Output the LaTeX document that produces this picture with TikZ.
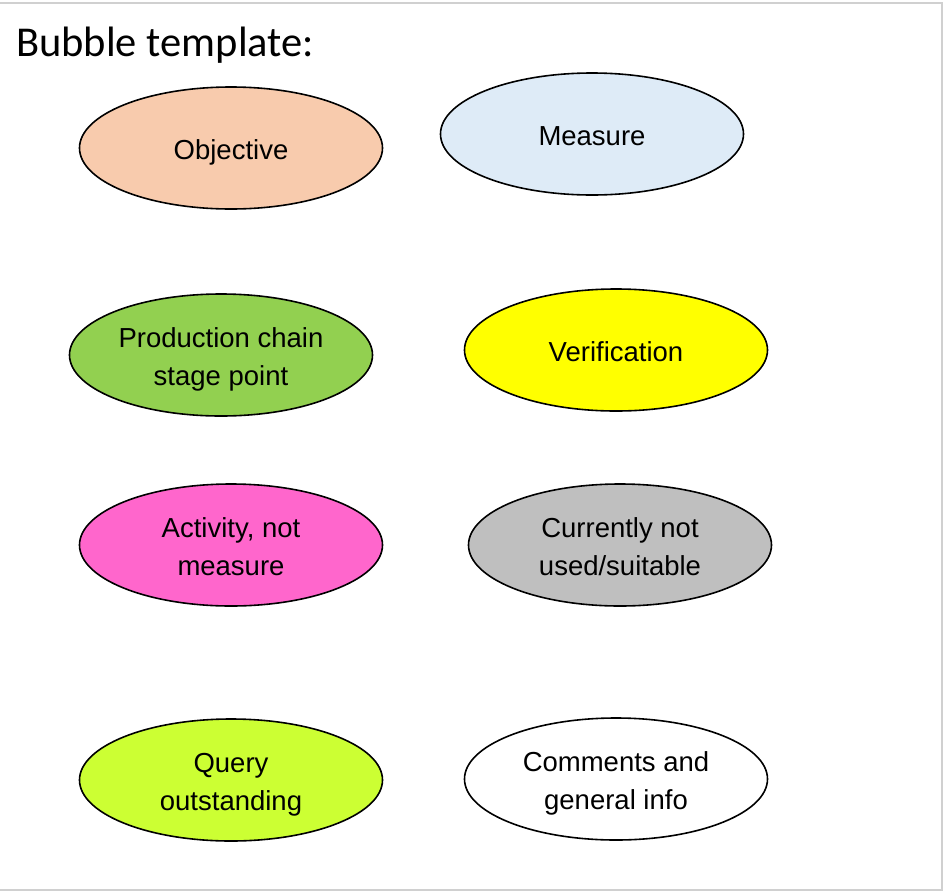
\documentclass[tikz,border=0pt]{standalone}
\usepackage{fontspec}
\setmainfont{Liberation Sans}
\newfontfamily\titlefont{Carlito}
\usetikzlibrary{shapes.geometric}

\definecolor{objfill}{HTML}{F8CBAD}
\definecolor{measfill}{HTML}{DEEBF7}
\definecolor{prodfill}{HTML}{92D050}
\definecolor{verifill}{HTML}{FFFF00}
\definecolor{actfill}{HTML}{FF66CC}
\definecolor{unusedfill}{HTML}{BFBFBF}
\definecolor{queryfill}{HTML}{CCFF33}
\definecolor{framegray}{HTML}{D0D0D0}

% uniform line box so text sits like a slide text frame
\newcommand\bs{\rule[-6pt]{0pt}{34pt}}

\tikzset{
  bubble/.style={ellipse, draw=black, line width=1.6pt,
    minimum width=303pt, minimum height=122pt, inner sep=0pt,
    align=center, font=\fontsize{27.5}{38}\selectfont},
}

\begin{document}
\begin{tikzpicture}[x=1pt, y=-1pt]
  \useasboundingbox (0,0) rectangle (943,892);
  \fill[white] (0,0) rectangle (943,892);
  % outer frame
  \draw[framegray, line width=2pt] (-2,3) -- (942,3) -- (942,890) -- (-2,890);

  \node[anchor=base west, font=\titlefont\fontsize{42.5}{48}\selectfont, inner sep=0pt]
    (title) at (16,56) {Bubble template:};

  \node[bubble, fill=objfill]    (objective)    at (231,148) {\bs Objective};
  \node[bubble, fill=measfill]   (measure)      at (592,134) {\bs Measure};
  \node[bubble, fill=prodfill]   (production)   at (221,355) {\bs Production chain\\\bs stage point};
  \node[bubble, fill=verifill]   (verification) at (616,350) {\bs Verification};
  \node[bubble, fill=actfill]    (activity)     at (231,545) {\bs Activity, not\\\bs measure};
  \node[bubble, fill=unusedfill] (unused)       at (620,545) {\bs Currently not\\\bs used/suitable};
  \node[bubble, fill=queryfill]  (query)        at (231,780) {\bs Query\\\bs outstanding};
  \node[bubble, fill=white]      (comments)     at (616,779) {\bs Comments and\\\bs general info};
\end{tikzpicture}
\end{document}
